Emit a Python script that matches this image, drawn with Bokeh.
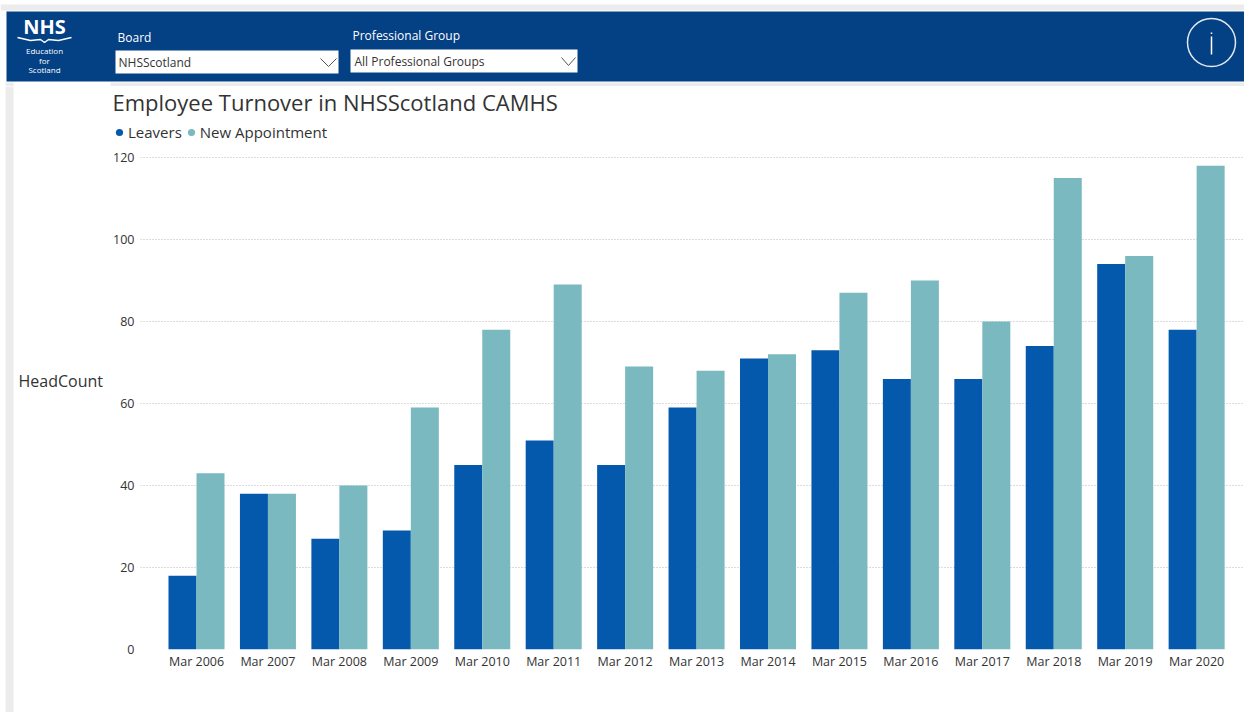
from bokeh.core.properties import value
from bokeh.embed import file_html
from bokeh.layouts import column, row
from bokeh.models import ColumnDataSource, FixedTicker, Legend, LegendItem, Range1d
from bokeh.plotting import figure
from bokeh.resources import INLINE
from bokeh.transform import dodge

months = ["Mar 2006", "Mar 2007", "Mar 2008", "Mar 2009", "Mar 2010", "Mar 2011", "Mar 2012", "Mar 2013",
          "Mar 2014", "Mar 2015", "Mar 2016", "Mar 2017", "Mar 2018", "Mar 2019", "Mar 2020"]
leavers = [18, 38, 27, 29, 45, 51, 45, 59, 71, 73, 66, 66, 74, 94, 78]
new_appointment = [43, 38, 40, 59, 78, 89, 69, 68, 72, 87, 90, 80, 115, 96, 118]
y_ticks = [0, 20, 40, 60, 80, 100, 120]

BLUE, TEAL, HEADER = "#0559AD", "#79B9BF", "#044084"
GREY = "#ececec"
INK = "#333333"
FONT = "Open Sans"


def canvas(w, h, x0, y0):
    """A figure without axes whose data coordinates are page pixels."""
    return figure(width=w, height=h, output_backend="svg", toolbar_location=None,
                  x_range=Range1d(x0, x0 + w), y_range=Range1d(y0 + h, y0),
                  x_axis_type=None, y_axis_type=None, outline_line_color=None,
                  min_border=0, min_border_left=0, min_border_right=0, min_border_top=0, min_border_bottom=0)


def txt(f, x, y, s, size, color="white", align="left", style="normal"):
    f.text(x=[x], y=[y], text=[s], text_font=value(FONT), text_font_size=value(size), text_color=color,
           text_align=align, text_baseline="middle", text_font_style=style)


# ---- header band
h = canvas(1244, 86, 0, 0)
h.quad(left=[0], right=[1244], top=[4], bottom=[10], color=GREY, line_color=None)
h.quad(left=[6], right=[1244], top=[11], bottom=[81], color=HEADER, line_color=None)
h.quad(left=[110], right=[1244], top=[82], bottom=[86], color=GREY, line_color=None)
h.quad(left=[5], right=[13], top=[82], bottom=[86], color=GREY, line_color=None)

txt(h, 44, 26, "NHS", "20px", align="center", style="bold")
h.line([17, 30, 40, 44, 48, 58, 71], [37, 40, 39, 42, 39, 40, 37], line_color="white", line_width=1.5)
txt(h, 44, 50, "Education", "8px", align="center")
txt(h, 44, 60, "for", "8px", align="center")
txt(h, 44, 69, "Scotland", "8px", align="center")

txt(h, 117, 37, "Board", "12px")
txt(h, 352, 35, "Professional Group", "12px")
h.quad(left=[115, 350], right=[338, 577], top=[50, 49], bottom=[73, 72], color="white", line_color=None)
txt(h, 118, 62, "NHSScotland", "12px", color=INK)
txt(h, 354, 61, "All Professional Groups", "12px", color=INK)
h.line([320, 328, 336], [58, 66, 58], line_color="#555555", line_width=1)
h.line([561, 568, 575], [57, 65, 57], line_color="#555555", line_width=1)

h.scatter(x=[1211], y=[42], marker="circle", size=48, fill_alpha=0, line_color="#e4e9f0", line_width=1.5)
h.line([1211, 1211], [36, 54], line_color="white", line_width=1.5)
h.line([1211, 1211], [32, 33.5], line_color="white", line_width=1.5)

# ---- left column: side strip and the value-axis title
side = canvas(110, 626, 0, 86)
side.quad(left=[5], right=[13], top=[86], bottom=[712], color=GREY, line_color=None)
txt(side, 18, 380, "HeadCount", "16px", color=INK)

# ---- title and legend
band = figure(width=1134, height=61, output_backend="svg", toolbar_location=None,
              x_range=Range1d(0, 1), y_range=Range1d(0, 1), x_axis_type=None, y_axis_type=None,
              outline_line_color=None, min_border_left=0, min_border_right=0, min_border_top=0, min_border_bottom=0,
              title="Employee Turnover in NHSScotland CAMHS")
band.title.text_font = FONT
band.title.text_font_size = "22px"
band.title.text_font_style = "normal"
band.title.text_color = INK
band.title.align = "left"
band.title.offset = 2
band.title.standoff = 0
band.title.vertical_align = "top"
k1 = band.scatter(x=[float("nan")], y=[0], marker="circle", size=8, color=BLUE, line_color=None)
k2 = band.scatter(x=[float("nan")], y=[0], marker="circle", size=8, color=TEAL, line_color=None)
legend = Legend(items=[LegendItem(label="Leavers", renderers=[k1]), LegendItem(label="New Appointment", renderers=[k2])],
                orientation="horizontal", location=(0, 5), margin=0, padding=0,
                background_fill_alpha=0, border_line_color=None, glyph_width=18, glyph_height=18,
                label_standoff=0, spacing=0, label_text_font=FONT, label_text_font_size="15px",
                label_text_color=INK, label_height=14)
band.add_layout(legend, "center")

# ---- chart
positions = list(range(len(months)))
src = ColumnDataSource(dict(pos=positions, leavers=leavers, new=new_appointment))

p = figure(width=1134, height=565, output_backend="svg", toolbar_location=None,
           x_range=Range1d(-0.784, 14.67), y_range=Range1d(0, 120.25),
           min_border_left=30, min_border_right=0, min_border_top=9, min_border_bottom=63,
           outline_line_color=None, background_fill_color="white", border_fill_color="white")
p.vbar(x=dodge("pos", -0.196, range=p.x_range), top="leavers", width=0.392, bottom=0,
       source=src, color=BLUE, line_color=None)
p.vbar(x=dodge("pos", 0.196, range=p.x_range), top="new", width=0.392, bottom=0,
       source=src, color=TEAL, line_color=None)

xa, ya = p.xaxis[0], p.yaxis[0]
xa.ticker = FixedTicker(ticks=positions)
xa.major_label_overrides = {i: m for i, m in enumerate(months)}
ya.ticker = FixedTicker(ticks=y_ticks)
for a in (xa, ya):
    a.axis_line_color = None
    a.major_tick_line_color = None
    a.minor_tick_line_color = None
    a.major_tick_in = a.major_tick_out = 0
    a.major_label_text_font = FONT
    a.major_label_text_font_size = "12.5px"
    a.major_label_text_color = INK
xa.major_label_standoff = 3
ya.major_label_standoff = 6

p.xgrid.visible = False
p.ygrid.ticker = FixedTicker(ticks=y_ticks)
p.ygrid.grid_line_color = "#b8b8b8"
p.ygrid.grid_line_dash = "1 2"

page = column(h, row(side, column(band, row(p, spacing=0), spacing=0), spacing=0), spacing=0)
open("out.html", "w").write(file_html(page, INLINE))
